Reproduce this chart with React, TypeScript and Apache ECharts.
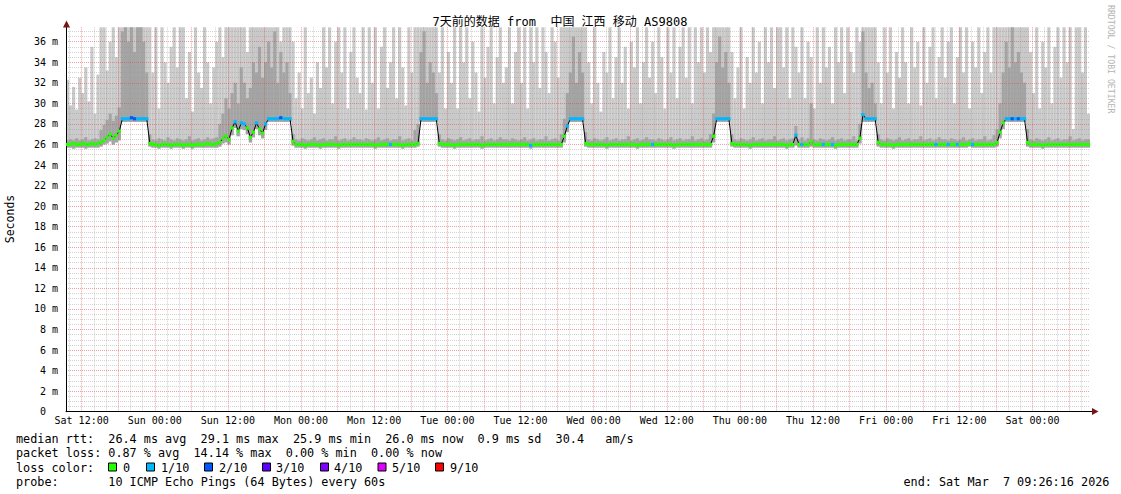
import React, { useEffect, useRef } from 'react';
import * as echarts from 'echarts';

const W = 1121;
const H = 494;
const PLOT_LEFT = 66;
const PLOT_RIGHT = 1090;
const PLOT_TOP = 27.3;
const PLOT_BOTTOM = 411.7;
const START_H = 9 + 26 / 60 + 16 / 3600; // Sat 09:26:16, hours since Sat 00:00
const SPAN_H = 168;
const END_H = START_H + SPAN_H;
const PX_PER_H = (PLOT_RIGHT - PLOT_LEFT) / SPAN_H;
const GRID_X_MIN = 10;
const Y_MAX = 37.4;
const MONO = '"DejaVu Sans Mono", monospace';
const TITLE_FONT = '"DejaVu Sans Mono", "Noto Sans CJK SC", monospace';

const titleText = '7天前的数据 from  中国 江西 移动 AS9808';

// x tick labels at hours 12, 24, ... 168 after Sat 00:00
const xTickLabels = [
  'Sat 12:00', 'Sun 00:00', 'Sun 12:00', 'Mon 00:00', 'Mon 12:00', 'Tue 00:00', 'Tue 12:00',
  'Wed 00:00', 'Wed 12:00', 'Thu 00:00', 'Thu 12:00', 'Fri 00:00', 'Fri 12:00', 'Sat 00:00',
];

// 30-minute buckets, 24 per row (12 hours per row)
const median = [
  26.0,26.0,26.1,26.0,26.0,26.1,26.0,26.0,26.1,26.0,26.1,26.2,26.4,26.7,27.0,26.6,26.9,27.3,28.5,28.5,28.5,28.6,28.5,28.5,
  28.5,28.5,28.5,26.1,26.0,26.0,25.9,26.0,26.0,26.0,25.9,26.0,26.0,26.0,25.9,26.0,26.0,25.9,26.0,26.0,26.0,26.0,26.1,26.0,
  26.0,26.1,26.2,26.6,26.8,26.5,27.6,28.2,27.3,28.1,28.0,27.6,26.7,27.2,28.1,27.5,27.1,28.0,28.5,28.5,28.5,28.5,28.6,28.5,
  28.5,28.5,26.3,26.0,26.0,26.0,25.9,26.0,26.0,26.0,26.0,25.9,26.0,26.0,26.0,26.0,26.0,25.9,26.0,26.0,26.0,26.0,26.0,26.0,
  26.0,26.0,26.0,26.0,26.0,25.9,26.0,26.0,26.0,26.0,26.0,26.0,26.0,26.0,25.9,26.0,26.0,26.0,26.0,26.1,28.5,28.5,28.5,28.5,
  28.5,28.5,26.1,26.0,26.0,26.0,26.0,25.9,26.0,26.0,26.0,26.0,26.0,26.0,26.0,26.0,25.9,26.0,26.0,26.0,26.0,26.0,26.0,26.0,
  26.0,26.0,26.0,26.0,26.0,26.0,26.0,26.0,25.9,26.0,26.0,26.0,26.0,26.0,26.0,26.0,26.0,26.0,26.0,26.8,27.8,28.5,28.5,28.5,
  28.5,28.5,26.1,26.0,26.0,26.0,26.0,26.0,26.0,25.9,26.0,26.0,26.0,26.0,26.0,26.0,26.0,26.0,26.0,25.9,26.0,26.0,26.0,26.0,
  26.0,26.0,26.0,26.0,26.0,26.0,26.0,25.9,26.0,26.0,26.0,26.0,26.0,26.0,26.0,26.0,26.0,26.0,26.0,26.0,26.8,28.5,28.5,28.5,
  28.5,28.5,26.1,26.0,26.0,26.0,26.0,26.0,25.9,26.0,26.0,26.0,26.0,26.0,26.0,26.0,26.0,26.0,26.0,26.0,25.9,26.0,26.0,26.9,
  26.0,26.0,26.0,26.0,26.3,26.0,26.0,26.0,26.0,26.0,26.0,26.0,25.9,26.0,26.0,26.0,26.0,26.0,26.0,26.0,26.6,28.9,28.5,28.5,
  28.5,28.5,26.2,26.0,26.0,26.0,26.0,25.9,26.0,26.0,26.0,26.0,26.0,26.0,26.0,26.0,26.0,26.0,26.0,26.0,26.0,26.0,26.0,26.0,
  26.0,26.0,26.0,26.0,26.0,26.0,26.0,26.0,26.1,26.0,26.0,26.0,26.0,26.0,26.0,26.0,26.0,26.2,27.2,28.1,28.5,28.5,28.5,28.5,
  28.5,28.5,28.5,26.2,26.0,26.0,26.0,26.0,25.9,26.0,26.0,26.0,26.0,26.0,26.0,26.0,26.0,26.0,26.0,26.0,26.0,26.0,26.0,26.0,
];

// packets lost out of 10 in each bucket
const loss = [
  0,0,0,0,0,0,0,0,0,0,0,0,0,0,0,0,0,0,1,1,1,2,2,1,
  1,1,1,0,0,0,0,0,0,0,0,0,0,0,0,0,0,0,0,0,0,0,0,0,
  0,0,0,0,0,0,0,1,0,1,1,0,0,0,1,0,0,1,1,1,1,1,2,1,
  1,1,0,0,0,0,0,0,0,0,0,0,0,0,0,0,0,0,0,0,0,0,0,0,
  0,0,0,0,0,0,0,0,0,0,1,0,0,0,0,0,0,0,0,0,1,1,1,1,
  1,1,0,0,0,0,0,0,0,0,0,0,0,0,0,0,0,0,0,0,0,0,0,0,
  0,0,0,0,0,0,0,0,1,0,0,0,0,0,0,0,0,0,0,0,1,1,1,1,
  1,1,0,0,0,0,0,0,0,0,0,0,0,0,0,0,0,0,0,0,0,0,0,0,
  1,0,0,0,0,0,0,0,0,0,0,0,0,0,0,0,0,0,0,0,0,1,1,1,
  1,1,0,0,0,0,0,0,0,0,0,0,0,0,0,0,0,0,0,0,0,0,0,1,
  0,1,0,0,0,0,0,0,1,0,0,1,0,0,0,0,0,0,0,0,0,1,1,1,
  1,1,0,0,0,0,0,0,0,0,0,0,0,0,0,0,0,0,0,0,0,1,0,0,
  0,1,0,0,1,0,0,0,0,1,0,0,0,0,0,0,0,0,0,0,1,1,2,1,
  2,1,1,0,0,0,0,0,0,0,0,0,0,0,0,0,0,0,0,0,0,0,0,0,
];

// fastest ping per bucket (bottom of the smoke)
const smokeLow = [
  25.7,25.7,25.6,25.7,25.7,25.7,25.6,25.7,25.7,25.7,25.7,25.8,26.0,26.1,26.3,26.0,26.2,26.4,28.2,28.2,28.2,28.2,28.2,28.2,
  28.2,28.2,28.2,25.8,25.7,25.7,25.6,25.7,25.7,25.7,25.6,25.7,25.7,25.7,25.6,25.7,25.7,25.6,25.7,25.7,25.7,25.7,25.7,25.7,
  25.7,25.7,25.8,26.1,26.2,26.0,26.9,27.6,26.8,27.5,27.4,27.0,26.2,26.7,27.5,26.9,26.6,27.4,28.2,28.2,28.2,28.2,28.2,28.2,
  28.2,28.2,25.9,25.7,25.7,25.7,25.6,25.7,25.7,25.7,25.7,25.6,25.7,25.7,25.7,25.7,25.7,25.6,25.7,25.7,25.7,25.7,25.7,25.7,
  25.7,25.7,25.7,25.7,25.7,25.6,25.7,25.7,25.7,25.7,25.7,25.7,25.7,25.7,25.6,25.7,25.7,25.7,25.7,25.8,28.2,28.2,28.2,28.2,
  28.2,28.2,25.8,25.7,25.7,25.7,25.7,25.6,25.7,25.7,25.7,25.7,25.7,25.7,25.7,25.7,25.6,25.7,25.7,25.7,25.7,25.7,25.7,25.7,
  25.7,25.7,25.7,25.7,25.7,25.7,25.7,25.7,25.6,25.7,25.7,25.7,25.7,25.7,25.7,25.7,25.7,25.7,25.7,26.2,27.2,28.2,28.2,28.2,
  28.2,28.2,25.8,25.7,25.7,25.7,25.7,25.7,25.7,25.6,25.7,25.7,25.7,25.7,25.7,25.7,25.7,25.7,25.7,25.6,25.7,25.7,25.7,25.7,
  25.7,25.7,25.7,25.7,25.7,25.7,25.7,25.6,25.7,25.7,25.7,25.7,25.7,25.7,25.7,25.7,25.7,25.7,25.7,25.7,26.2,28.2,28.2,28.2,
  28.2,28.2,25.8,25.7,25.7,25.7,25.7,25.7,25.6,25.7,25.7,25.7,25.7,25.7,25.7,25.7,25.7,25.7,25.7,25.7,25.6,25.7,25.7,25.9,
  25.7,25.7,25.7,25.7,25.8,25.7,25.7,25.7,25.7,25.7,25.7,25.7,25.6,25.7,25.7,25.7,25.7,25.7,25.7,25.7,26.1,28.2,28.2,28.2,
  28.2,28.2,25.8,25.7,25.7,25.7,25.7,25.6,25.7,25.7,25.7,25.7,25.7,25.7,25.7,25.7,25.7,25.7,25.7,25.7,25.7,25.7,25.7,25.7,
  25.7,25.7,25.7,25.7,25.7,25.7,25.7,25.7,25.8,25.7,25.7,25.7,25.7,25.7,25.7,25.7,25.7,25.8,26.6,27.5,28.2,28.2,28.2,28.2,
  28.2,28.2,28.2,25.8,25.7,25.7,25.7,25.7,25.6,25.7,25.7,25.7,25.7,25.7,25.7,25.7,25.7,25.7,25.7,25.7,25.7,25.7,25.7,25.7,
];

// top of the darker (inner) smoke band
const smokeMid = [
  26.4,26.5,26.4,26.6,26.4,26.5,26.7,26.4,26.5,26.6,26.5,27.4,27.9,28.4,29.0,28.3,28.8,29.6,37.0,38.0,36.0,38.0,35.0,37.5,
  38.0,36.0,33.0,27.0,26.5,26.4,26.6,26.5,26.4,26.7,26.5,26.4,26.6,26.5,26.4,26.5,26.8,26.4,26.5,26.6,26.4,26.5,26.7,26.5,
  26.6,26.7,28.0,29.0,30.5,29.5,31.0,32.0,30.0,33.5,32.0,30.5,31.5,34.0,33.0,35.5,32.5,34.0,36.0,33.5,37.0,32.0,35.0,33.0,
  34.0,31.0,27.0,26.5,26.4,26.6,26.5,26.4,26.5,26.7,26.4,26.5,26.6,26.4,26.5,26.5,26.8,26.4,26.5,26.6,26.4,26.5,26.7,26.5,
  26.5,26.4,26.6,26.5,26.4,26.5,26.7,26.4,26.5,26.6,26.4,26.5,26.5,26.8,26.4,26.5,26.6,26.4,27.4,28.0,35.0,37.0,32.0,34.0,
  33.0,31.0,27.0,26.5,26.4,26.6,26.5,26.4,26.5,26.7,26.4,26.5,26.6,26.4,26.5,26.5,26.8,26.4,26.5,26.6,26.4,26.5,26.7,26.5,
  26.5,26.4,26.6,26.5,26.4,26.5,26.7,26.4,26.5,26.6,26.4,26.5,26.5,26.8,26.4,26.5,26.6,26.4,27.0,28.5,31.0,33.0,36.5,32.0,
  35.0,33.0,27.2,26.5,26.4,26.6,26.5,26.4,26.5,26.7,26.4,26.5,26.6,26.4,26.5,26.5,26.8,26.4,26.5,26.6,26.4,26.5,26.7,26.5,
  26.5,26.4,26.6,26.5,26.4,26.5,26.7,26.4,26.5,26.6,26.4,26.5,26.5,26.8,26.4,26.5,26.6,26.4,26.5,27.0,29.0,34.0,36.5,33.5,
  35.0,32.0,27.0,26.5,26.4,26.6,26.5,26.4,26.5,26.7,26.4,26.5,26.6,26.4,26.5,26.5,26.8,26.4,26.5,26.6,26.4,26.5,26.6,27.8,
  26.5,26.7,26.4,26.6,30.0,26.5,26.4,26.6,26.5,26.4,26.5,26.7,26.4,26.5,26.6,26.4,26.5,26.5,26.8,26.4,28.0,37.0,33.0,31.5,
  32.0,30.0,27.0,26.5,26.4,26.6,26.5,26.4,26.5,26.7,26.4,26.5,26.6,26.4,26.5,26.5,26.8,26.4,26.5,26.6,26.4,26.5,26.7,26.5,
  26.5,26.4,26.6,26.5,26.4,26.5,26.7,26.4,26.5,26.6,26.4,26.5,26.5,26.8,26.4,26.5,26.9,27.5,30.0,33.0,36.0,33.5,37.5,34.0,
  35.0,33.0,32.0,27.5,26.5,26.4,26.6,26.5,26.4,26.5,26.7,26.4,26.5,26.6,26.4,26.5,26.5,26.8,26.4,26.5,26.6,26.4,26.5,26.5,
];

// slowest ping per bucket (top of the smoke; values above the axis max are clipped)
const smokeTop = [
  32.3,29.8,31.6,29.4,32.5,31.0,33.5,30.2,35.5,29.0,32.8,38.0,38.0,33.2,36.0,38.0,34.5,38.0,38.0,38.0,38.0,38.0,38.0,38.0,
  38.0,38.0,38.0,38.0,33.0,38.0,29.5,38.0,34.0,32.0,35.5,38.0,33.5,38.0,38.0,30.5,35.0,29.2,38.0,33.0,31.5,38.0,34.0,30.0,
  33.5,36.0,38.0,34.5,38.0,38.0,38.0,38.0,38.0,38.0,38.0,35.0,38.0,38.0,38.0,38.0,38.0,38.0,38.0,38.0,38.0,38.0,36.0,38.0,
  38.0,38.0,36.0,30.5,33.0,29.5,38.0,31.0,32.5,29.0,34.0,31.5,38.0,33.5,38.0,30.0,36.0,38.0,33.0,38.0,29.5,35.0,38.0,32.5,
  31.0,38.0,29.4,38.0,32.0,38.0,29.5,35.5,38.0,31.5,34.0,38.0,30.5,38.0,33.5,29.8,38.0,33.0,38.0,38.0,38.0,38.0,38.0,38.0,
  38.0,38.0,33.0,38.0,29.5,35.0,32.0,38.0,29.5,38.0,34.0,38.0,30.5,36.0,33.0,29.2,38.0,32.5,35.5,38.0,30.0,34.5,38.0,32.0,
  33.5,38.0,30.0,35.0,38.0,32.0,38.0,29.5,38.0,34.0,38.0,31.5,38.0,35.0,31.0,38.0,36.0,32.5,38.0,38.0,38.0,38.0,38.0,38.0,
  38.0,38.0,38.0,34.0,30.0,38.0,32.0,29.2,35.0,33.0,38.0,30.5,34.5,38.0,32.0,35.5,29.5,36.0,33.5,38.0,30.0,34.0,38.0,32.5,
  36.0,31.0,38.0,34.5,29.5,38.0,33.0,38.0,30.5,35.5,38.0,32.5,38.0,30.0,38.0,34.0,38.0,33.0,38.0,35.0,38.0,38.0,38.0,38.0,
  38.0,38.0,35.0,30.5,33.5,38.0,29.5,34.5,32.0,38.0,33.0,36.0,30.0,38.0,34.0,38.0,31.5,38.0,38.0,33.5,38.0,30.5,38.0,35.5,
  33.0,38.0,30.5,36.0,34.5,29.5,38.0,32.0,38.0,33.5,35.5,30.0,38.0,34.0,38.0,31.0,38.0,35.0,33.0,38.0,36.0,38.0,38.0,38.0,
  38.0,38.0,34.0,30.0,38.0,33.0,38.0,29.5,35.0,32.5,38.0,34.0,30.0,38.0,33.5,36.0,29.8,38.0,32.0,35.5,38.0,30.5,34.5,38.0,
  32.5,36.0,38.0,30.0,34.5,38.0,33.0,38.0,29.5,36.0,33.5,38.0,31.0,35.0,38.0,33.0,38.0,38.0,38.0,38.0,38.0,38.0,38.0,38.0,
  38.0,38.0,38.0,38.0,35.0,31.0,38.0,29.5,36.0,33.5,38.0,30.0,35.5,38.0,32.5,38.0,34.0,38.0,27.5,38.0,38.0,33.0,38.0,29.0,
];

const lossColors = ['#26ff00', '#00b8ff', '#0059ff', '#5e00ff', '#7e00ff', '#dd00ff', '#ff0000'];
const lossLabels = ['0', '1/10', '2/10', '3/10', '4/10', '5/10', '9/10'];
const lossBoxX = [108, 146, 204, 262, 320, 377.5, 435];
const lossTextX = [123, 161, 219, 276, 334, 392, 450];

const medianStats = [[0, 'median rtt:'], [13, '26.4 ms avg'], [26, '29.1 ms max'], [39, '25.9 ms min'], [52, '26.0 ms now'], [65, '0.9 ms sd'], [76, '30.4'], [83, 'am/s']];
const lossStats = [[0, 'packet loss:'], [13, '0.87 % avg'], [25, '14.14 % max'], [38, '0.00 % min'], [50, '0.00 % now']];
const probeRow = [[0, 'probe:'], [13, '10 ICMP Echo Pings (64 Bytes) every 60s'], [125, 'end: Sat Mar'], [139, '7 09:26:16 2026']];

const bucketLabels = median.map((_, i) => String(i));

const LEG_X = 16;
const CW = 7.1;
const LEG_FS = 11.8;
const ROW_Y = [438.5, 453, 467.5, 482];

const MINOR = 'rgba(150,150,150,0.42)';
const MAJOR = 'rgba(224,70,70,0.5)';

function buildGraphic() {
  const g: any[] = [];
  const txt = (x: number, y: number, text: string, extra: any = {}, style: any = {}) => ({
    type: 'text', x, y, silent: true, z: 10, ...extra,
    style: { text, fill: '#000', fontFamily: MONO, fontSize: LEG_FS, align: 'left', verticalAlign: 'middle', ...style },
  });
  g.push(txt(560, 21.5, titleText, {}, { fontFamily: TITLE_FONT, fontSize: 12, align: 'center' }));
  g.push(txt(10, 219, 'Seconds', { rotation: Math.PI / 2 }, { fontSize: 11.5, align: 'center' }));
  g.push(txt(1110.5, 5, 'RRDTOOL / TOBI OETIKER', { rotation: -Math.PI / 2 }, { fontSize: 8.2, fill: '#b4b4b4' }));
  [medianStats, lossStats].forEach((row, r) => {
    row.forEach(([c, t]) => g.push(txt(LEG_X + (c as number) * CW, ROW_Y[r], t as string)));
  });
  g.push(txt(LEG_X, ROW_Y[2], 'loss color:'));
  lossLabels.forEach((lab, k) => {
    g.push({
      type: 'rect', silent: true, z: 10,
      shape: { x: lossBoxX[k] + 0.5, y: ROW_Y[2] - 4.5, width: 8, height: 8 },
      style: { fill: lossColors[k], stroke: '#000', lineWidth: 1 },
    });
    g.push(txt(lossTextX[k], ROW_Y[2], lab));
  });
  probeRow.forEach(([c, t]) => g.push(txt(LEG_X + (c as number) * CW, ROW_Y[3], t as string)));
  // axis arrows
  g.push({ type: 'polygon', silent: true, z: 10, shape: { points: [[66.5, 20.5], [63, 27.5], [70, 27.5]] }, style: { fill: '#7a1414' } });
  g.push({ type: 'line', silent: true, z: 10, shape: { x1: PLOT_RIGHT, y1: 411.5, x2: 1093, y2: 411.5 }, style: { stroke: '#000', lineWidth: 1 } });
  g.push({ type: 'polygon', silent: true, z: 10, shape: { points: [[1098.5, 411.5], [1092, 408], [1092, 415]] }, style: { fill: '#7a1414' } });
  return g;
}

function xLabel(v: number) {
  const r = Math.round(v);
  if (Math.abs(v - r) > 1e-6 || r % 12 !== 0) return '';
  return xTickLabels[r / 12 - 1] ?? '';
}

function yLabel(v: number) {
  const r = Math.round(v * 2) / 2;
  if (Math.abs(v - r) > 1e-6 || r % 2 !== 0) return '';
  return r === 0 ? '{z|0}' : `${r} m`;
}

function buildOption() {
  const barCommon = { xAxisIndex: 0, yAxisIndex: 0, barWidth: 3.15, barGap: '-100%', barCategoryGap: '0%', silent: true, z: 1 };
  const transparent = { color: 'rgba(0,0,0,0)' };
  return {
    animation: false,
    backgroundColor: '#ffffff',
    textStyle: { fontFamily: MONO },
    grid: [
      { left: PLOT_LEFT, right: W - PLOT_RIGHT, top: PLOT_TOP, bottom: H - PLOT_BOTTOM },
      { left: PLOT_LEFT + (GRID_X_MIN - START_H) * PX_PER_H, right: W - PLOT_RIGHT, top: PLOT_TOP, bottom: H - PLOT_BOTTOM },
    ],
    xAxis: [
      {
        gridIndex: 0, type: 'category', data: bucketLabels, boundaryGap: true, z: 3,
        axisLine: { show: true, onZero: false, lineStyle: { color: '#000', width: 1 } },
        axisTick: { show: false }, axisLabel: { show: false }, splitLine: { show: false },
      },
      {
        gridIndex: 1, type: 'value', min: GRID_X_MIN, max: END_H, interval: 2, z: 2,
        axisLine: { show: false }, axisTick: { show: false },
        axisLabel: { formatter: xLabel, fontFamily: MONO, fontSize: 10, color: '#000', margin: 4, hideOverlap: false },
        splitLine: { show: true, showMaxLine: false, lineStyle: { color: [MINOR, MAJOR, MINOR], type: [1, 1], width: 1 } },
      },
    ],
    yAxis: [
      {
        gridIndex: 0, type: 'value', min: 0, max: Y_MAX, interval: 0.5, z: 2,
        axisLine: { show: true, lineStyle: { color: '#000', width: 1 } },
        axisTick: { show: false },
        axisLabel: {
          formatter: yLabel, fontFamily: MONO, fontSize: 10, color: '#000', margin: 8, showMaxLabel: false,
          rich: { z: { fontFamily: MONO, fontSize: 10, color: '#000', padding: [0, 12, 0, 0] } },
        },
        splitLine: { show: true, showMaxLine: false, lineStyle: { color: [MAJOR, MINOR, MINOR, MINOR], type: [1, 1], width: 1 } },
      },
      { gridIndex: 1, type: 'value', min: 0, max: Y_MAX, show: false },
    ],
    series: [
      { ...barCommon, type: 'bar', name: 'lowA', stack: 'outer', data: smokeLow, itemStyle: transparent },
      { ...barCommon, type: 'bar', name: 'outer', stack: 'outer', data: smokeTop.map((v, i) => +(v - smokeLow[i]).toFixed(2)), itemStyle: { color: '#c9c9c9' } },
      { ...barCommon, type: 'bar', name: 'lowB', stack: 'inner', data: smokeLow, itemStyle: transparent },
      { ...barCommon, type: 'bar', name: 'inner', stack: 'inner', data: smokeMid.map((v, i) => +(v - smokeLow[i]).toFixed(2)), itemStyle: { color: '#a4a4a4' } },
      {
        type: 'line', name: 'median', xAxisIndex: 0, yAxisIndex: 0, data: median, silent: true, z: 4,
        symbol: 'none', showSymbol: false, lineStyle: { color: '#000', width: 1 },
      },
      {
        type: 'scatter', name: 'loss', xAxisIndex: 0, yAxisIndex: 0, silent: true, z: 5,
        symbol: 'rect', symbolSize: [3.3, 3.2],
        itemStyle: { opacity: 1 },
        data: median.map((m, i) => ({ value: m, itemStyle: { color: lossColors[loss[i]], opacity: 1 } })),
      },
    ],
    graphic: buildGraphic(),
  };
}

export default function App() {
  const ref = useRef<HTMLDivElement>(null);
  useEffect(() => {
    if (!ref.current) return;
    const chart = echarts.init(ref.current, null, { renderer: 'svg' });
    chart.setOption(buildOption() as any);
    return () => chart.dispose();
  }, []);
  return <div ref={ref} style={{ position: 'absolute', left: 0, top: 0, width: W, height: H, background: '#fff' }} />;
}
